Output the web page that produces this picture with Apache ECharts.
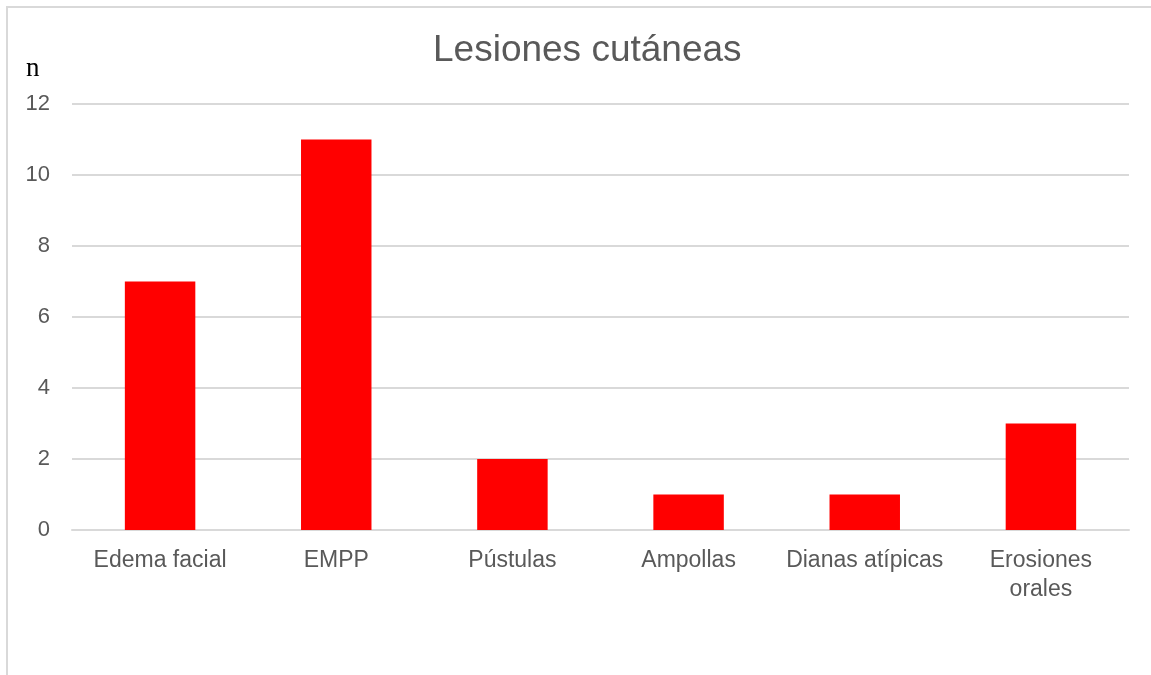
<!DOCTYPE html>
<html>
<head>
<meta charset="utf-8">
<script src="https://cdn.jsdelivr.net/npm/echarts@6/dist/echarts.min.js"></script>
<style>
  html, body { margin: 0; padding: 0; background: #fff; overflow: hidden; }
  #frame { position: absolute; left: 6px; top: 6px; width: 1200px; height: 720px; border: 2px solid #d9d9d9; }
  #main { position: absolute; left: 0; top: 0; width: 1151px; height: 675px; }
</style>
</head>
<body>
<div id="frame"></div>
<div id="main"></div>
<script>
// datos
var categorias = ['Edema facial', 'EMPP', 'Pústulas', 'Ampollas', 'Dianas atípicas', 'Erosiones\norales'];
var valores = [7, 11, 2, 1, 1, 3];
var titulo = 'Lesiones cutáneas';
var etiquetaEje = 'n';

var myChart = echarts.init(document.getElementById('main'));

var option = {
    animation: false,
    title: {
        text: titulo,
        left: 428,
        top: 27,
        textStyle: {
            fontFamily: 'Liberation Sans',
            fontSize: 37,
            fontWeight: 'normal',
            color: '#595959'
        }
    },
    graphic: [
        {
            type: 'text',
            left: 26,
            top: 55,
            style: {
                text: etiquetaEje,
                font: '27px "Liberation Serif"',
                fill: '#000'
            }
        }
    ],
    grid: {
        left: 72,
        right: 22,
        top: 104,
        bottom: 145
    },
    xAxis: {
        type: 'category',
        data: categorias,
        axisLine: { lineStyle: { color: '#d9d9d9', width: 2 } },
        axisTick: { show: false },
        axisLabel: {
            interval: 0,
            margin: 16,
            fontFamily: 'Liberation Sans',
            fontSize: 23,
            lineHeight: 29,
            color: '#595959'
        }
    },
    yAxis: {
        type: 'value',
        min: 0,
        max: 12,
        interval: 2,
        axisLine: { show: false },
        axisTick: { show: false },
        splitLine: { lineStyle: { color: '#d9d9d9', width: 2 } },
        axisLabel: {
            margin: 22,
            fontFamily: 'Liberation Sans',
            fontSize: 22,
            color: '#595959'
        }
    },
    series: [
        {
            type: 'bar',
            data: valores,
            barWidth: '40%',
            itemStyle: { color: '#ff0000' }
        }
    ]
};

myChart.setOption(option);
</script>
</body>
</html>
